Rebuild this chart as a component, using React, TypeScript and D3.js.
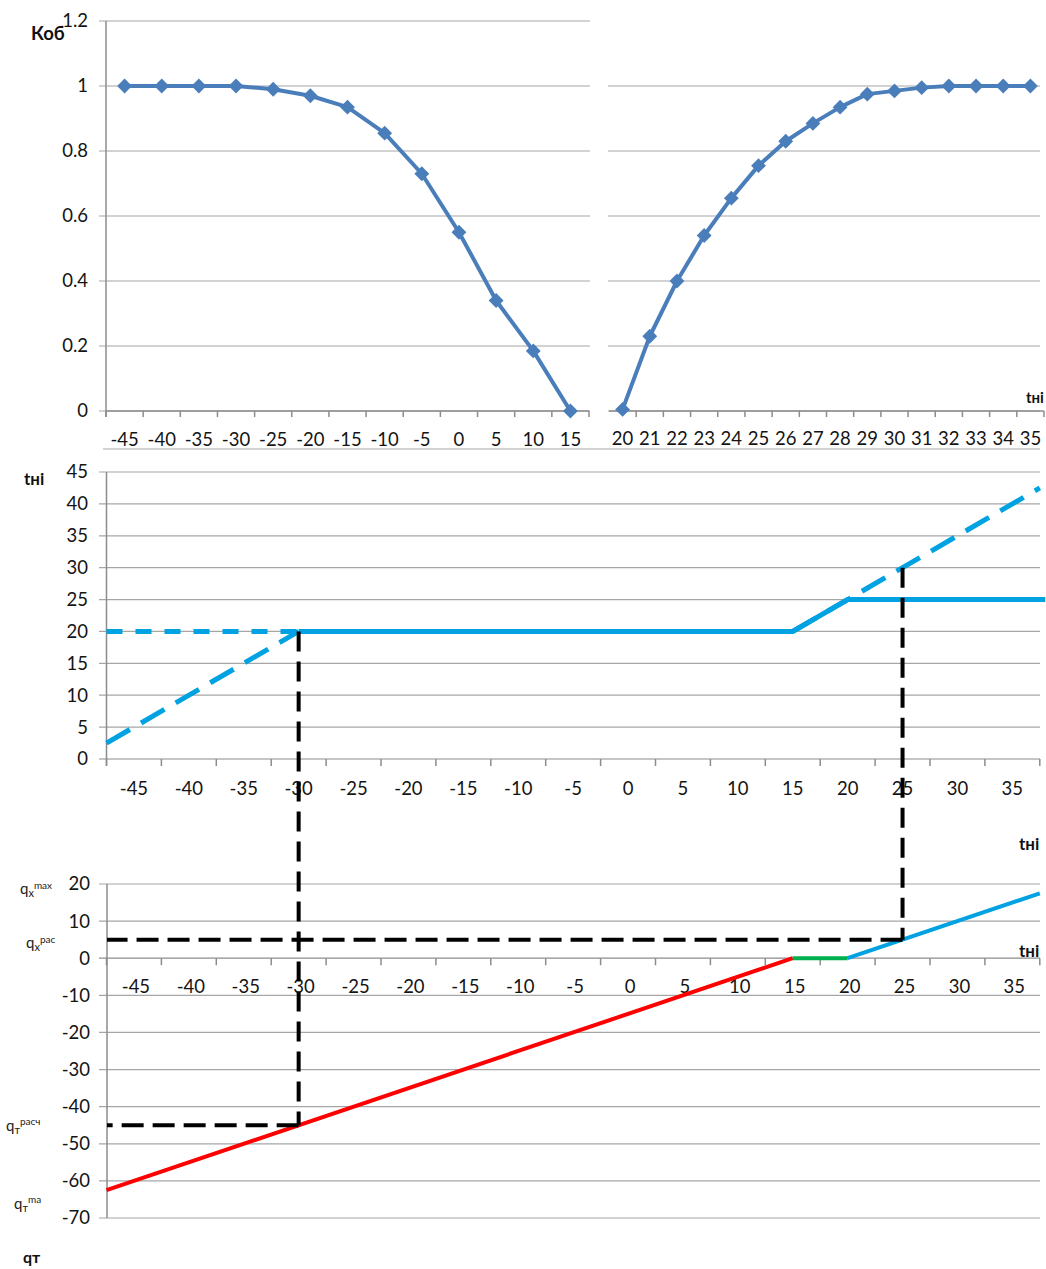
import React from "react";
import * as d3 from "d3";

// ---------- DATA ----------
const kobLeftCats = [-45, -40, -35, -30, -25, -20, -15, -10, -5, 0, 5, 10, 15];
const kobLeftVals = [1, 1, 1, 1, 0.99, 0.97, 0.935, 0.855, 0.73, 0.55, 0.34, 0.185, 0];
const kobRightCats = [20, 21, 22, 23, 24, 25, 26, 27, 28, 29, 30, 31, 32, 33, 34, 35];
const kobRightVals = [0.005, 0.23, 0.4, 0.54, 0.655, 0.755, 0.83, 0.885, 0.935, 0.975, 0.985, 0.995, 1, 1, 1, 1];
const kobTicksLeft = [0, 0.2, 0.4, 0.6, 0.8, 1, 1.2];
const kobTicksRight = [0, 0.2, 0.4, 0.6, 0.8, 1];

const tCats = [-45, -40, -35, -30, -25, -20, -15, -10, -5, 0, 5, 10, 15, 20, 25, 30, 35];
const tniTicks = [0, 5, 10, 15, 20, 25, 30, 35, 40, 45];
const qTicks = [20, 10, 0, -10, -20, -30, -40, -50, -60, -70];

// middle chart (t_ni vs t_n)
const tniSolid: [number, number][] = [[-30, 20], [15, 20], [20, 25], [38, 25]];
const tniDashLow: [number, number][] = [[-47.5, 2.5], [-30, 20]];
const tniDashFlat: [number, number][] = [[-47.5, 20], [-30, 20]];
const tniDashHigh: [number, number][] = [[15, 20], [37.5, 42.5]];

// bottom chart (q vs t_n)
const qRed: [number, number][] = [[-47.5, -62.5], [15, 0]];
const qGreen: [number, number][] = [[15, 0], [20, 0]];
const qBlue: [number, number][] = [[20, 0], [37.5, 17.5]];

// guide lines: [t, tni, q]
const guideLeft = { t: -30, tni: 20, q: -45 };
const guideRight = { t: 25, tni: 30, q: 5 };

// ---------- STYLE ----------
const FONT = "Lato, 'Open Sans', sans-serif";
const GRID = "#a6a6a6";
const AXIS = "#8c8c8c";
const KOB = "#4a7ebb";
const LBLUE = "#00a2e2";

export default function App() {
  // top charts
  const yKob = d3.scaleLinear().domain([0, 1.2]).range([411, 21]);
  const xKL = d3.scaleBand<number>().domain(kobLeftCats).range([106, 589]);
  const xKR = d3.scaleBand<number>().domain(kobRightCats).range([609, 1044]);

  // middle / bottom share the t axis
  const step = 54.9;
  const x0 = 106.5;
  const xT = d3.scaleLinear().domain([-45, 35]).range([x0 + step / 2, x0 + step / 2 + 16 * step]);
  const yTni = d3.scaleLinear().domain([0, 45]).range([759, 472]);
  const yQ = d3.scaleLinear().domain([-70, 20]).range([1218, 884]);

  const lineKL = d3.line<number>().x((_, i) => xKL(kobLeftCats[i])! + xKL.bandwidth() / 2).y((d) => yKob(d));
  const lineKR = d3.line<number>().x((_, i) => xKR(kobRightCats[i])! + xKR.bandwidth() / 2).y((d) => yKob(d));
  const lineMid = d3.line<[number, number]>().x((d) => xT(d[0])).y((d) => yTni(d[1]));
  const lineBot = d3.line<[number, number]>().x((d) => xT(d[0])).y((d) => yQ(d[1]));
  const diamond = d3.symbol(d3.symbolSquare, 110)()!;

  const boundaries = d3.range(tCats.length + 1).map((k) => x0 + k * step);
  const numFmt = (v: number) => String(v);

  const labelStyle = { fontFamily: FONT, fontSize: 18.5, fill: "#141414" } as const;

  return (
    <svg width={1046} height={1269} style={{ position: "absolute", left: 0, top: 0 }}>
      <rect width={1046} height={1269} fill="#fff" />

      {/* ===== TOP LEFT: Kob ===== */}
      {kobTicksLeft.map((v) => (
        <line key={"gl" + v} x1={99} x2={590} y1={yKob(v)} y2={yKob(v)} stroke={GRID} strokeWidth={1.2} />
      ))}
      {kobTicksLeft.map((v) => (
        <text key={"tl" + v} x={88} y={yKob(v)} dy="0.35em" textAnchor="end" {...labelStyle}>
          {numFmt(v)}
        </text>
      ))}
      <line x1={106} x2={106} y1={21} y2={417} stroke={AXIS} strokeWidth={1.5} />
      <line x1={106} x2={589} y1={411} y2={411} stroke={AXIS} strokeWidth={1.5} />
      {d3.range(kobLeftCats.length + 1).map((k) => {
        const x = 106 + k * xKL.step();
        return <line key={"kt" + k} x1={x} x2={x} y1={411} y2={417} stroke={AXIS} strokeWidth={1.5} />;
      })}
      {kobLeftCats.map((c) => (
        <text key={"kl" + c} x={xKL(c)! + xKL.bandwidth() / 2} y={446} textAnchor="middle" {...labelStyle}>
          {c}
        </text>
      ))}
      <path d={lineKL(kobLeftVals)!} fill="none" stroke={KOB} strokeWidth={4} strokeLinejoin="round" />
      {kobLeftVals.map((v, i) => (
        <path
          key={"dl" + i}
          d={diamond}
          fill={KOB}
          transform={`translate(${xKL(kobLeftCats[i])! + xKL.bandwidth() / 2},${yKob(v)}) rotate(45)`}
        />
      ))}

      {/* ===== TOP RIGHT: Kob ===== */}
      {kobTicksRight.map((v) => (
        <line key={"gr" + v} x1={608} x2={1040} y1={yKob(v)} y2={yKob(v)} stroke={GRID} strokeWidth={1.2} />
      ))}
      <line x1={609} x2={1044} y1={411} y2={411} stroke={AXIS} strokeWidth={1.5} />
      {d3.range(kobRightCats.length + 1).map((k) => {
        const x = 609 + k * xKR.step();
        return k === 0 ? null : <line key={"rt" + k} x1={x} x2={x} y1={411} y2={417} stroke={AXIS} strokeWidth={1.5} />;
      })}
      {kobRightCats.map((c) => (
        <text key={"kr" + c} x={xKR(c)! + xKR.bandwidth() / 2} y={445} textAnchor="middle" {...labelStyle}>
          {c}
        </text>
      ))}
      <path d={lineKR(kobRightVals)!} fill="none" stroke={KOB} strokeWidth={4} strokeLinejoin="round" />
      {kobRightVals.map((v, i) => (
        <path
          key={"dr" + i}
          d={diamond}
          fill={KOB}
          transform={`translate(${xKR(kobRightCats[i])! + xKR.bandwidth() / 2},${yKob(v)}) rotate(45)`}
        />
      ))}
      <line x1={103} x2={1040} y1={449} y2={449} stroke="#c4c4c4" strokeWidth={1.5} />
      <text x={31} y={40} fontFamily={FONT} fontSize={18.5} fontWeight="bold" fill="#111">Коб</text>
      <text x={1026} y={403} fontFamily={FONT} fontSize={15} fontWeight="bold" fill="#111">tні</text>

      {/* ===== MIDDLE: t_ni ===== */}
      {tniTicks.map((v) => (
        <line key={"gm" + v} x1={99} x2={1040} y1={yTni(v)} y2={yTni(v)} stroke={v === 0 ? AXIS : GRID} strokeWidth={1.2} />
      ))}
      {tniTicks.map((v) => (
        <text key={"tm" + v} x={88} y={yTni(v)} dy="0.35em" textAnchor="end" {...labelStyle}>
          {v}
        </text>
      ))}
      <line x1={106.5} x2={106.5} y1={472} y2={766} stroke={AXIS} strokeWidth={1.5} />
      {boundaries.map((x, k) => (
        <line key={"mt" + k} x1={x} x2={x} y1={759} y2={766} stroke={AXIS} strokeWidth={1.5} />
      ))}
      {tCats.map((c) => (
        <text key={"ml" + c} x={xT(c)} y={795} textAnchor="middle" {...labelStyle}>
          {c}
        </text>
      ))}
      <path d={lineMid(tniDashFlat)!} fill="none" stroke={LBLUE} strokeWidth={5} strokeDasharray="16 13" />
      <path d={lineMid(tniDashLow)!} fill="none" stroke={LBLUE} strokeWidth={5} strokeDasharray="27 13" />
      <path d={lineMid(tniDashHigh)!} fill="none" stroke={LBLUE} strokeWidth={5} strokeDasharray="27 13" />
      <path d={lineMid(tniSolid)!} fill="none" stroke={LBLUE} strokeWidth={5} />
      <text x={24} y={485} fontFamily={FONT} fontSize={17} fontWeight="bold" fill="#111">tні</text>
      <text x={1019} y={850} fontFamily={FONT} fontSize={17} fontWeight="bold" fill="#111">tні</text>

      {/* ===== BOTTOM: q ===== */}
      {qTicks.map((v) => (
        <line key={"gb" + v} x1={99} x2={1040} y1={yQ(v)} y2={yQ(v)} stroke={v === 0 ? AXIS : GRID} strokeWidth={1.2} />
      ))}
      {qTicks.map((v) => (
        <text key={"tb" + v} x={90} y={yQ(v)} dy="0.35em" textAnchor="end" {...labelStyle}>
          {v}
        </text>
      ))}
      <line x1={107} x2={107} y1={884} y2={1218} stroke={AXIS} strokeWidth={1.5} />
      {boundaries.map((x, k) => (
        <line key={"bt" + k} x1={x} x2={x} y1={yQ(0)} y2={yQ(0) + 7} stroke={AXIS} strokeWidth={1.5} />
      ))}
      {tCats.map((c) => (
        <text key={"bl" + c} x={xT(c) + 2} y={993} textAnchor="middle" {...labelStyle}>
          {c}
        </text>
      ))}
      <path d={lineBot(qRed)!} fill="none" stroke="#ff0000" strokeWidth={4} />
      <path d={lineBot(qGreen)!} fill="none" stroke="#00b050" strokeWidth={4} />
      <path d={lineBot(qBlue)!} fill="none" stroke={LBLUE} strokeWidth={4} />
      <text x={1019} y={957} fontFamily={FONT} fontSize={17} fontWeight="bold" fill="#111">tні</text>

      {/* ===== GUIDE LINES ===== */}
      <path
        d={`M${xT(guideLeft.t)},${yTni(guideLeft.tni)}V${yQ(guideLeft.q)}`}
        stroke="#000" strokeWidth={4} strokeDasharray="20 10" fill="none"
      />
      <path
        d={`M${xT(guideLeft.t)},${yQ(guideLeft.q)}H107`}
        stroke="#000" strokeWidth={4} strokeDasharray="22 9" fill="none"
      />
      <path
        d={`M${xT(guideRight.t)},${yTni(guideRight.tni)}V${yQ(guideRight.q)}`}
        stroke="#000" strokeWidth={4} strokeDasharray="20 10" fill="none"
      />
      <path
        d={`M${xT(guideRight.t)},${yQ(guideRight.q)}H107`}
        stroke="#000" strokeWidth={4} strokeDasharray="22 9" fill="none"
      />

      {/* q labels */}
      <text x={20} y={894} fontFamily={FONT} fontSize={15} fill="#222">
        q<tspan fontSize={11} dy={3}>x</tspan>
        <tspan fontSize={10} dy={-8}>max</tspan>
      </text>
      <text x={26} y={948} fontFamily={FONT} fontSize={15} fill="#222">
        q<tspan fontSize={11} dy={3}>x</tspan>
        <tspan fontSize={10} dy={-8}>рас</tspan>
      </text>
      <text x={6} y={1131} fontFamily={FONT} fontSize={15} fill="#222">
        q<tspan fontSize={11} dy={3}>т</tspan>
        <tspan fontSize={10} dy={-9}>расч</tspan>
      </text>
      <text x={14} y={1209} fontFamily={FONT} fontSize={15} fill="#222">
        q<tspan fontSize={11} dy={3}>т</tspan>
        <tspan fontSize={10} dy={-9}>ma</tspan>
      </text>
      <text x={23} y={1263} fontFamily={FONT} fontSize={16} fontWeight="bold" fill="#111">qт</text>
    </svg>
  );
}
